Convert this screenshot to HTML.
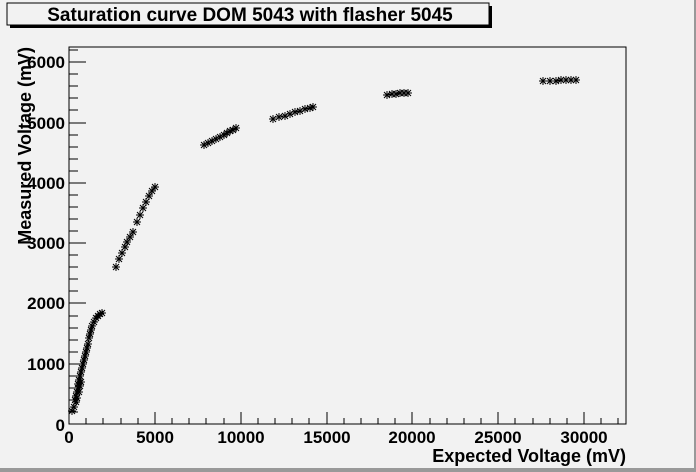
<!DOCTYPE html>
<html><head><style>body{margin:0;background:#f2f2f2}svg{display:block}</style></head><body>
<svg width="696" height="472" xmlns="http://www.w3.org/2000/svg" font-family="Liberation Sans, sans-serif" font-weight="bold">
<defs><g id="s" stroke="#000" stroke-width="1"><path d="M-4 0H4M0 -4V4M-3 -3L3 3M-3 3L3 -3"/></g></defs>
<rect width="696" height="472" fill="#f2f2f2"/>
<rect x="0" y="468" width="696" height="4" fill="#999"/>
<rect x="694" y="0" width="2" height="472" fill="#999"/>
<rect x="10" y="6" width="482" height="22" fill="#000"/>
<rect x="7" y="3" width="482" height="22" fill="#f2f2f2" stroke="#000" stroke-width="1"/>
<text x="250" y="21" font-size="19" text-anchor="middle">Saturation curve DOM 5043 with flasher 5045</text>
<rect x="69" y="47" width="557" height="377" fill="none" stroke="#000"/>
<g stroke="#000">
<path d="M69 424V412M155 424V412M241 424V412M327 424V412M412 424V412M498 424V412M584 424V412"/>
<path d="M86 424V418M103 424V418M121 424V418M138 424V418M172 424V418M189 424V418M206 424V418M224 424V418M258 424V418M275 424V418M292 424V418M309 424V418M344 424V418M361 424V418M378 424V418M395 424V418M430 424V418M447 424V418M464 424V418M481 424V418M515 424V418M533 424V418M550 424V418M567 424V418M601 424V418M618 424V418"/>
<path d="M69 424H86M69 364H86M69 303H86M69 243H86M69 183H86M69 123H86M69 62H86"/>
<path d="M69 412H78M69 400H78M69 388H78M69 376H78M69 352H78M69 340H78M69 328H78M69 316H78M69 291H78M69 279H78M69 267H78M69 255H78M69 231H78M69 219H78M69 207H78M69 195H78M69 171H78M69 159H78M69 147H78M69 135H78M69 110H78M69 98H78M69 86H78M69 74H78M69 50H78"/>
</g>
<g font-size="17">
<g text-anchor="end">
<text x="65" y="431">0</text><text x="65" y="370">1000</text><text x="65" y="309">2000</text><text x="65" y="249">3000</text><text x="65" y="189">4000</text><text x="65" y="129">5000</text><text x="65" y="68">6000</text>
</g>
<g text-anchor="middle">
<text x="69" y="443">0</text><text x="155" y="443">5000</text><text x="241" y="443">10000</text><text x="327" y="443">15000</text><text x="412" y="443">20000</text><text x="498" y="443">25000</text><text x="584" y="443">30000</text>
</g>
</g>
<g font-size="18">
<text x="626" y="462" text-anchor="end">Expected Voltage (mV)</text>
<text transform="translate(31,47) rotate(-90)" text-anchor="end">Measured Voltage (mV)</text>
</g>
<g>
<use href="#s" x="72" y="411"/><use href="#s" x="74" y="407"/><use href="#s" x="75" y="400"/><use href="#s" x="76" y="396"/><use href="#s" x="77" y="392"/><use href="#s" x="78" y="388"/><use href="#s" x="78" y="384"/><use href="#s" x="79" y="380"/><use href="#s" x="80" y="376"/><use href="#s" x="81" y="372"/><use href="#s" x="82" y="368"/><use href="#s" x="83" y="364"/><use href="#s" x="84" y="360"/><use href="#s" x="85" y="356"/><use href="#s" x="86" y="352"/><use href="#s" x="87" y="348"/><use href="#s" x="88" y="344"/><use href="#s" x="89" y="338"/><use href="#s" x="90" y="334"/><use href="#s" x="91" y="330"/><use href="#s" x="92" y="326"/><use href="#s" x="94" y="322"/><use href="#s" x="96" y="318"/><use href="#s" x="98" y="316"/><use href="#s" x="100" y="314"/><use href="#s" x="102" y="313"/>
<use href="#s" x="77" y="398"/><use href="#s" x="79" y="392"/><use href="#s" x="80" y="386"/><use href="#s" x="76" y="402"/><use href="#s" x="81" y="382"/>
<use href="#s" x="116" y="267"/><use href="#s" x="119" y="259"/><use href="#s" x="122" y="253"/><use href="#s" x="125" y="247"/><use href="#s" x="127" y="242"/><use href="#s" x="130" y="237"/><use href="#s" x="133" y="232"/><use href="#s" x="137" y="222"/><use href="#s" x="140" y="215"/><use href="#s" x="143" y="208"/><use href="#s" x="146" y="202"/><use href="#s" x="149" y="196"/><use href="#s" x="152" y="191"/><use href="#s" x="155" y="187"/>
<use href="#s" x="204" y="145"/><use href="#s" x="208" y="143"/><use href="#s" x="212" y="141"/><use href="#s" x="216" y="139"/><use href="#s" x="220" y="137"/><use href="#s" x="224" y="135"/><use href="#s" x="227" y="133"/><use href="#s" x="230" y="131"/><use href="#s" x="233" y="130"/><use href="#s" x="236" y="128"/>
<use href="#s" x="273" y="119"/><use href="#s" x="279" y="117"/><use href="#s" x="285" y="116"/><use href="#s" x="290" y="114"/><use href="#s" x="295" y="112"/><use href="#s" x="300" y="111"/><use href="#s" x="305" y="109"/><use href="#s" x="310" y="108"/><use href="#s" x="313" y="107"/>
<use href="#s" x="387" y="95"/><use href="#s" x="392" y="94"/><use href="#s" x="396" y="94"/><use href="#s" x="400" y="93"/><use href="#s" x="404" y="93"/><use href="#s" x="408" y="93"/>
<use href="#s" x="543" y="81"/><use href="#s" x="550" y="81"/><use href="#s" x="556" y="81"/><use href="#s" x="561" y="80"/><use href="#s" x="566" y="80"/><use href="#s" x="571" y="80"/><use href="#s" x="576" y="80"/>
</g>
</svg>
</body></html>
